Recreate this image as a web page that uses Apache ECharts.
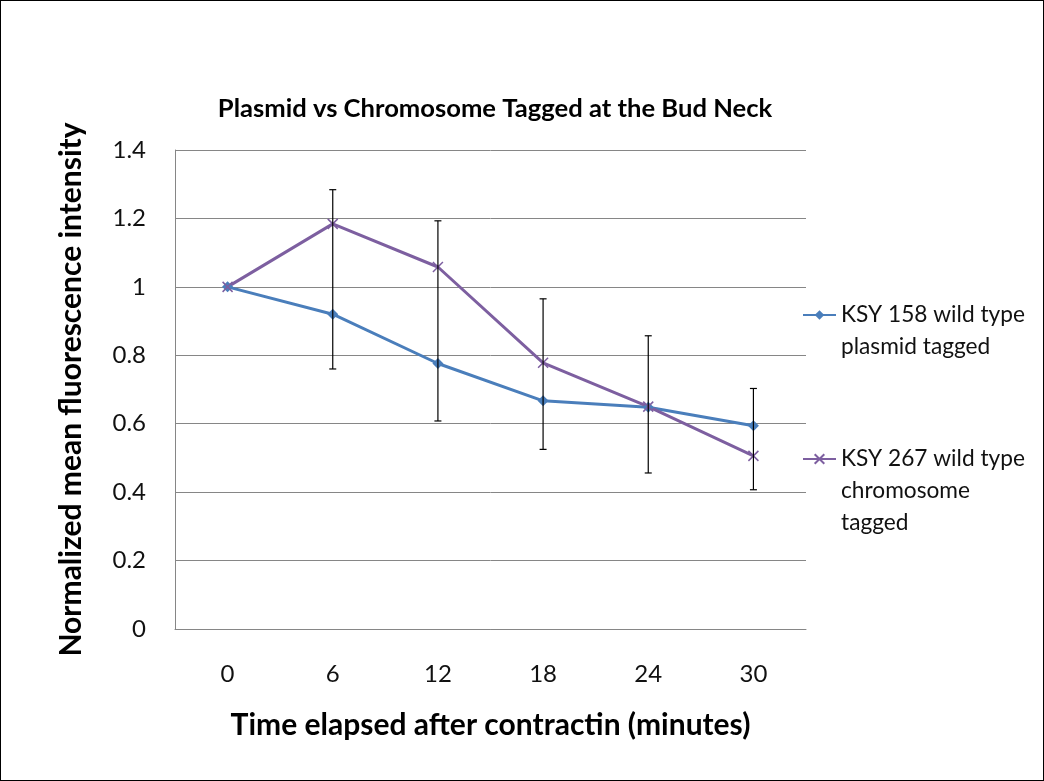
<!DOCTYPE html>
<html>
<head>
<meta charset="utf-8">
<script src="https://cdn.jsdelivr.net/npm/echarts@6/dist/echarts.min.js"></script>
<style>
html,body{margin:0;padding:0;background:#fff;}
#c{width:1044px;height:781px;box-sizing:border-box;border:1px solid #000;}
</style>
</head>
<body>
<div id="c"></div>
<script>
const categories = ['0', '6', '12', '18', '24', '30'];
const plasmidName = 'KSY 158 wild type plasmid tagged';
const chromosomeName = 'KSY 267 wild type chromosome tagged';
const plasmidLegendLines = ['KSY 158 wild type', 'plasmid tagged'];
const chromosomeLegendLines = ['KSY 267 wild type', 'chromosome', 'tagged'];
const plasmidValues = [1.0, 0.92, 0.776, 0.667, 0.648, 0.594];
const chromosomeValues = [1.0, 1.184, 1.058, 0.778, 0.650, 0.506];
// error bar extents per time point (low / high ends of the whisker)
const errorBarLow = [null, 0.760, 0.608, 0.525, 0.456, 0.407];
const errorBarHigh = [null, 1.284, 1.193, 0.965, 0.857, 0.703];
const yTicks = [0, 0.2, 0.4, 0.6, 0.8, 1, 1.2, 1.4];

const blue = '#4A7EBB';
const purple = '#7D5FA0';
const FONT = 'Lato';

function errRender(params, api) {
  const i = api.value(0), lo = api.value(1), hi = api.value(2);
  if (isNaN(lo) || isNaN(hi)) return null;
  const pHi = api.coord([i, hi]);
  const pLo = api.coord([i, lo]);
  const cap = 3.5;
  const st = {stroke: '#000', lineWidth: 1.2};
  return {
    type: 'group',
    children: [
      {type: 'line', shape: {x1: pHi[0], y1: pHi[1], x2: pLo[0], y2: pLo[1]}, style: st},
      {type: 'line', shape: {x1: pHi[0] - cap, y1: pHi[1], x2: pHi[0] + cap, y2: pHi[1]}, style: st},
      {type: 'line', shape: {x1: pLo[0] - cap, y1: pLo[1], x2: pLo[0] + cap, y2: pLo[1]}, style: st}
    ]
  };
}
const errData = categories.map((c, i) =>
  errorBarLow[i] == null ? [i, NaN, NaN] : [i, errorBarLow[i], errorBarHigh[i]]);

const legendText = {fontFamily: FONT, fontSize: 22.7, color: '#111', lineHeight: 32};

const chart = echarts.init(document.getElementById('c'), null, {renderer: 'canvas'});
chart.setOption({
  animation: false,
  title: {
    text: 'Plasmid vs Chromosome Tagged at the Bud Neck',
    left: 489, top: 90, textAlign: 'center',
    textStyle: {fontFamily: FONT, fontWeight: 'bold', fontSize: 25.6, color: '#000'}
  },
  grid: {left: 174, right: 237, top: 149, bottom: 151},
  legend: [
    {
      data: [plasmidName], left: 796, top: 261, orient: 'vertical',
      itemWidth: 33, itemHeight: 12,
      formatter: () => '\n' + plasmidLegendLines.join('\n'),
      textStyle: legendText
    },
    {
      data: [chromosomeName], left: 796, top: 373, orient: 'vertical',
      itemWidth: 33, itemHeight: 12,
      formatter: () => '\n\n' + chromosomeLegendLines.join('\n'),
      textStyle: legendText
    }
  ],
  xAxis: {
    type: 'category', data: categories, boundaryGap: true,
    name: 'Time elapsed after contractin (minutes)', nameLocation: 'middle', nameGap: 81,
    nameTextStyle: {fontFamily: FONT, fontWeight: 'bold', fontSize: 30, color: '#000'},
    axisLine: {lineStyle: {color: '#868686', width: 1}},
    axisTick: {show: false},
    axisLabel: {fontFamily: FONT, fontSize: 24, color: '#111', margin: 33}
  },
  yAxis: {
    type: 'value', min: 0, max: 1.4, interval: 0.2,
    name: 'Normalized mean fluorescence intensity', nameLocation: 'middle', nameGap: 89,
    nameTextStyle: {fontFamily: FONT, fontWeight: 'bold', fontSize: 30, color: '#000'},
    axisLine: {show: true, lineStyle: {color: '#868686', width: 1}},
    axisTick: {show: false},
    splitLine: {lineStyle: {color: '#868686', width: 1}},
    axisLabel: {
      fontFamily: FONT, fontSize: 24, color: '#111', margin: 29,
      formatter: v => { const t = yTicks.find(x => Math.abs(x - v) < 1e-9); return String(t !== undefined ? t : v); }
    }
  },
  series: [
    {
      name: plasmidName, type: 'line', data: plasmidValues,
      symbol: 'diamond', symbolSize: 11,
      lineStyle: {color: blue, width: 3},
      itemStyle: {color: blue},
      z: 3
    },
    {
      name: chromosomeName, type: 'line', data: chromosomeValues,
      symbol: 'path://M0,0L10,10M10,0L0,10', symbolSize: 10,
      lineStyle: {color: purple, width: 3},
      itemStyle: {color: purple, borderColor: purple, borderWidth: 1.5},
      z: 3
    },
    {
      type: 'custom', renderItem: errRender, data: errData,
      encode: {x: 0, y: [1, 2]}, z: 5, silent: true
    }
  ]
});
</script>
</body>
</html>
